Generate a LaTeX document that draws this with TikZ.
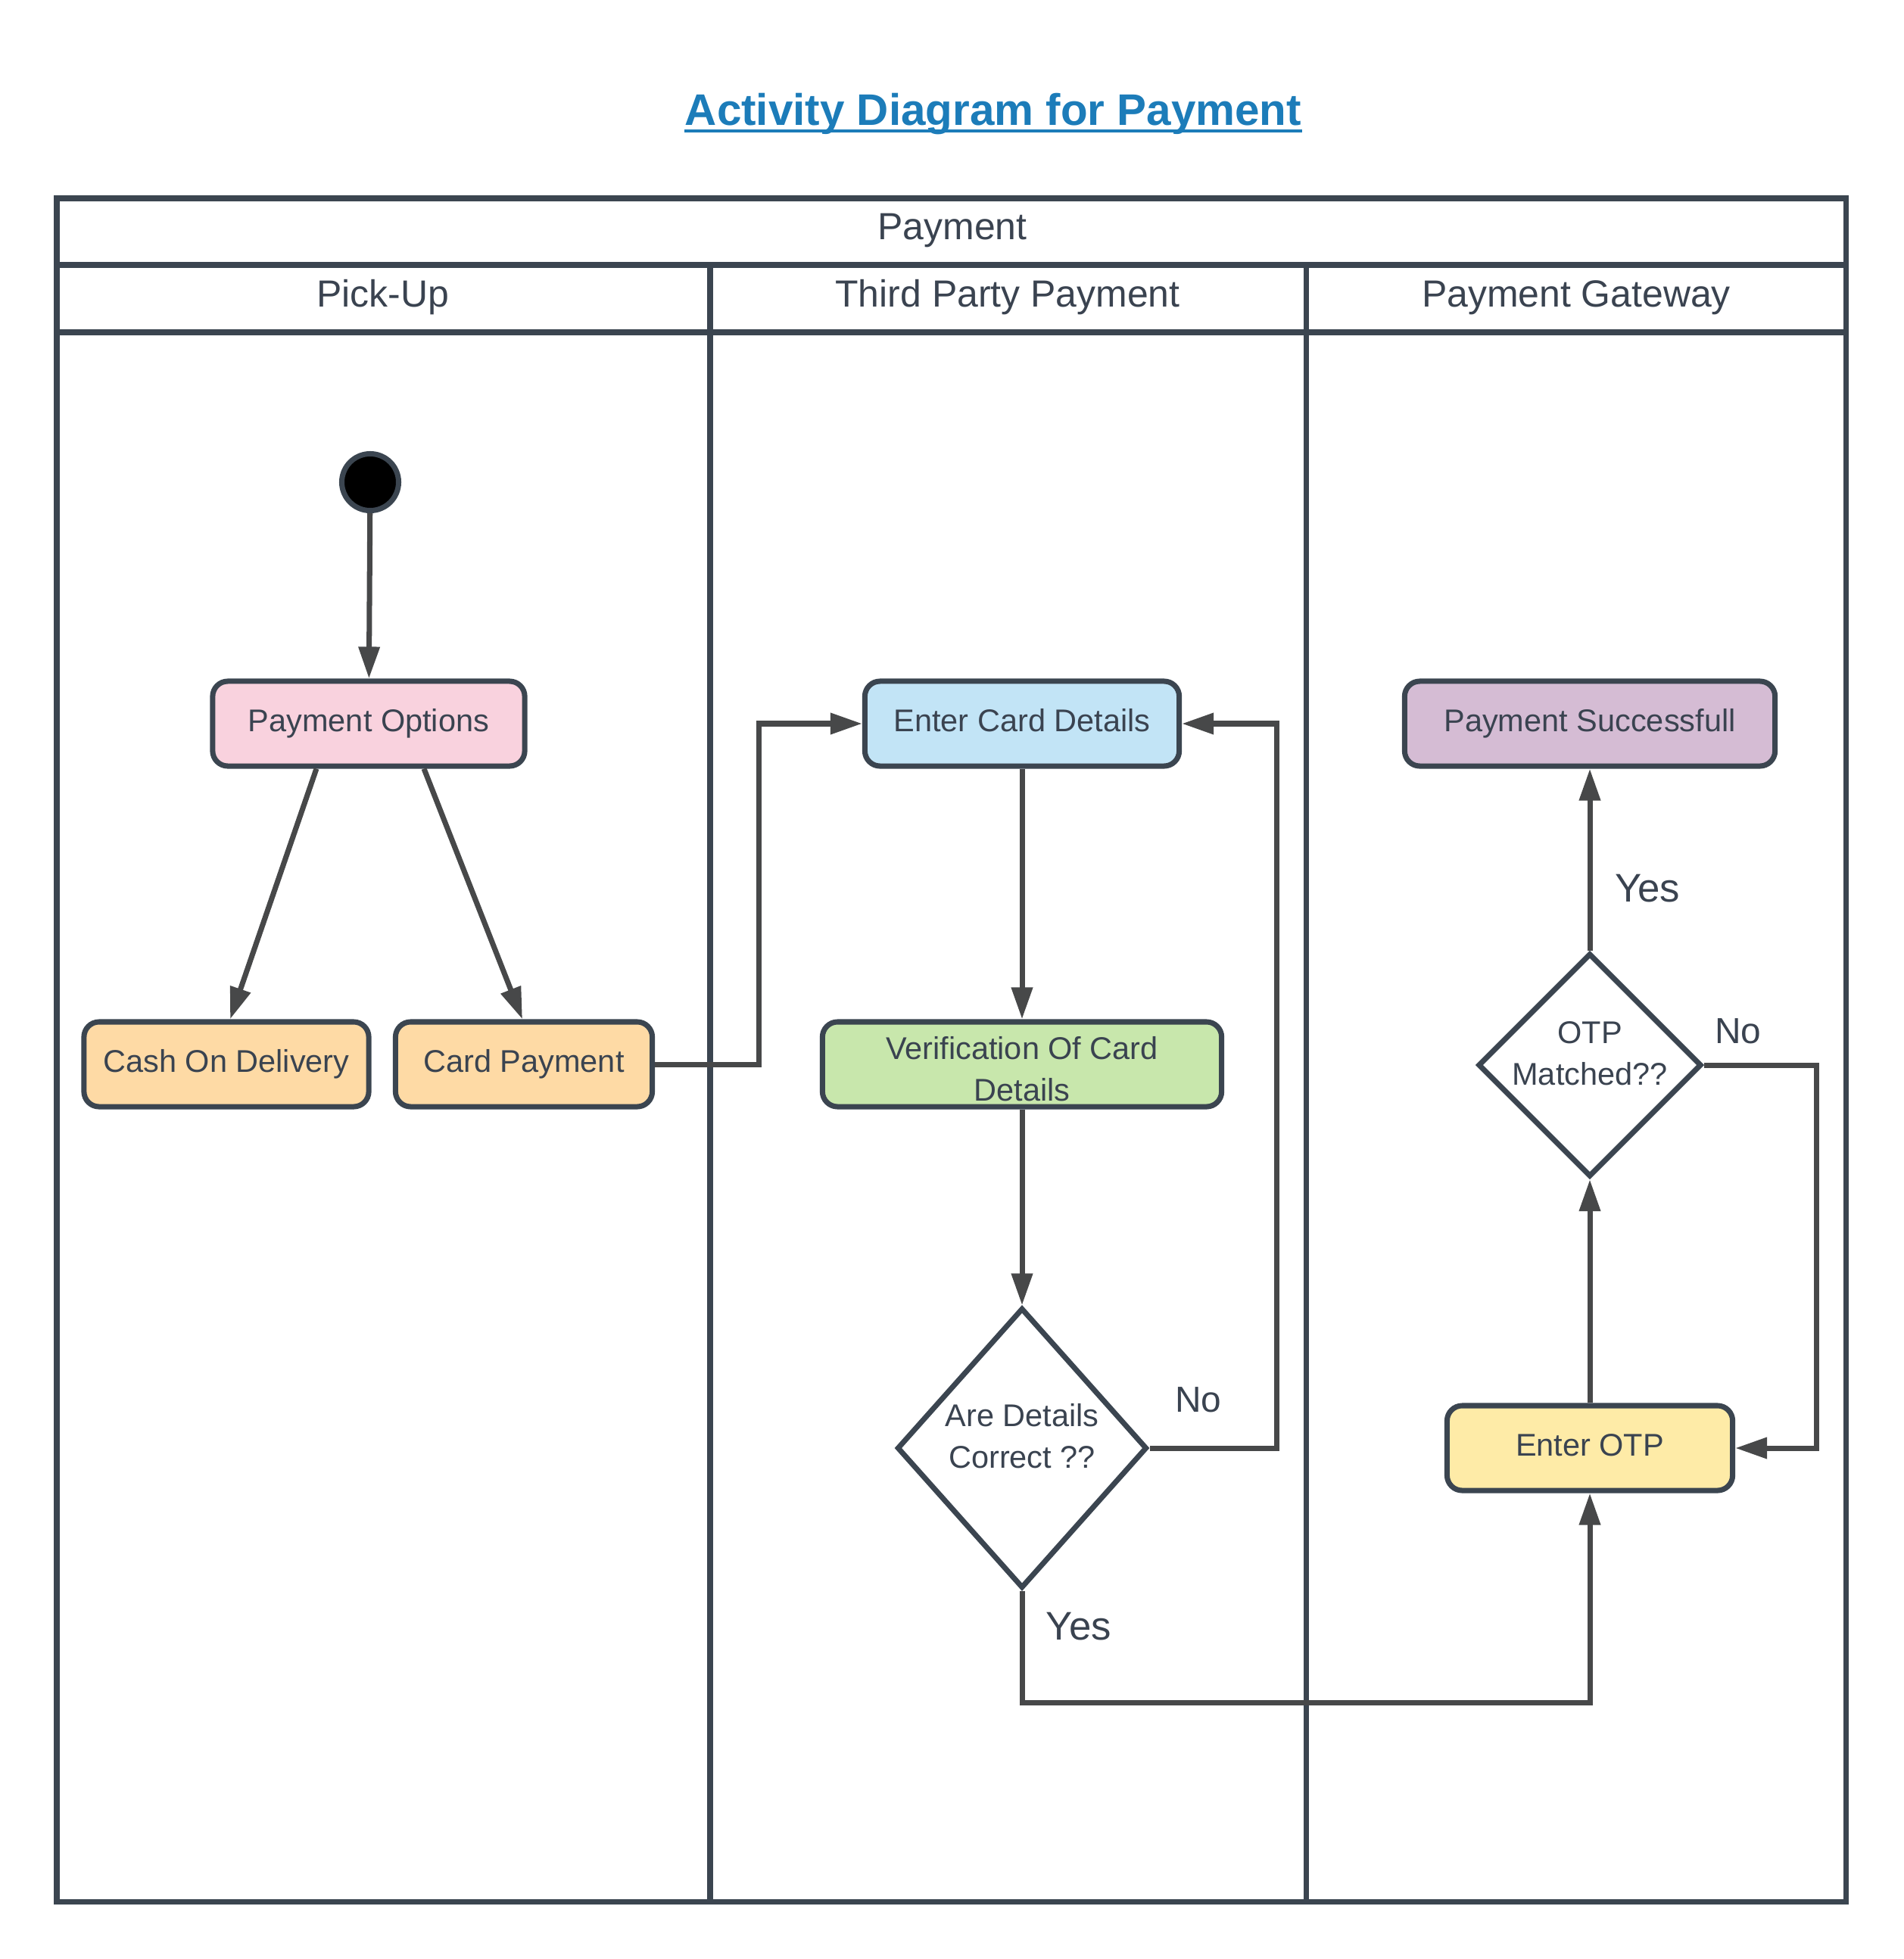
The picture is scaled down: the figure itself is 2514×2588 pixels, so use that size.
\documentclass[tikz,border=0pt]{standalone}
\usepackage{fontspec}
\setmainfont{Liberation Sans}
\usetikzlibrary{arrows.meta,shapes.geometric}

\definecolor{edgegray}{HTML}{3B4550}
\definecolor{flowgray}{HTML}{474849}
\definecolor{inkgray}{HTML}{3A4350}
\definecolor{titleblue}{HTML}{1C7CB9}
\definecolor{pinkfill}{HTML}{F9D2DE}
\definecolor{orangefill}{HTML}{FEDAA5}
\definecolor{bluefill}{HTML}{C2E4F6}
\definecolor{greenfill}{HTML}{C8E7AC}
\definecolor{purplefill}{HTML}{D5BCD4}
\definecolor{yellowfill}{HTML}{FEEBA7}

% two centred lines, lifted a little, not counted in the node size
\newcommand{\twolines}[2][0.4pt]{\raisebox{#1}[0pt][0pt]{\begin{tabular}{@{}c@{}}#2\end{tabular}}}

\tikzset{
  activity/.style={draw=edgegray, line width=2pt, rounded corners=0.2cm,
    minimum height=1.12cm, text=inkgray,
    text height=0.30cm, text depth=0.09cm,
    font=\fontsize{11.8}{15.5}\selectfont},
  decision/.style={diamond, draw=edgegray, line width=2pt, fill=white,
    inner sep=0pt, text=inkgray,
    font=\fontsize{11.8}{15.5}\selectfont},
  flow/.style={draw=flowgray, line width=2pt,
    -{Triangle[length=0.42cm,width=0.27cm]}},
  lanehead/.style={text=inkgray, font=\fontsize{14.2}{17}\selectfont},
  guard/.style={text=inkgray, font=\fontsize{13.6}{16}\selectfont},
}

\begin{document}
\begin{tikzpicture}[x=0.01cm,y=-0.01cm]
\useasboundingbox (0,0) rectangle (2514,2588);

% title
\node[anchor=base, inner sep=0pt, text=titleblue,
  font=\bfseries\fontsize{16.6}{20}\selectfont] (title) at (1312,166)
  {Activity Diagram for Payment};
\draw[titleblue, line width=1.1pt] ([yshift=-2pt]title.base west) -- ([yshift=-2pt]title.base east);

% swimlanes
\draw[edgegray, line width=2pt] (75,262) rectangle (2438,2512);
\draw[edgegray, line width=2pt] (75,350) -- (2438,350);
\draw[edgegray, line width=2pt] (75,439) -- (2438,439);
\draw[edgegray, line width=2pt] (938,350) -- (938,2512);
\draw[edgegray, line width=2pt] (1725,350) -- (1725,2512);
\node[lanehead] (pool) at (1258,305) {Payment};
\node[lanehead] (pickup) at (506,393) {Pick-Up};
\node[lanehead] (thirdparty) at (1331,393) {Third Party Payment};
\node[lanehead] (gateway) at (2082,393) {Payment Gateway};

% activities
\node[circle, draw=edgegray, fill=black, line width=2pt, minimum size=0.75cm, inner sep=0pt] (init) at (489,637) {};
\node[activity, fill=pinkfill, minimum width=4.12cm] (popt) at (487,956) {Payment Options};
\node[activity, fill=orangefill, minimum width=3.76cm] (cod) at (299,1406) {Cash On Delivery};
\node[activity, fill=orangefill, minimum width=3.39cm] (card) at (692,1406) {Card Payment};
\node[activity, fill=bluefill, minimum width=4.15cm] (ecd) at (1350,956) {Enter Card Details};
\node[activity, fill=greenfill, minimum width=5.27cm, text height=0pt, text depth=0pt] (verif) at (1350,1406) {\twolines[-5.9pt]{Verification Of Card\\Details}};
\node[decision, minimum width=3.3cm, minimum height=3.7cm] (chk) at (1350,1913) {\twolines{Are Details\\Correct ??}};
\node[activity, fill=purplefill, minimum width=4.89cm] (succ) at (2100,956) {Payment Successfull};
\node[decision, minimum width=2.95cm, minimum height=2.95cm] (otpq) at (2100,1407) {\twolines{OTP\\Matched??}};
\node[activity, fill=yellowfill, minimum width=3.77cm] (eotp) at (2100,1913) {Enter OTP};

% guards
\node[guard] (nocard) at (1583,1849) {No};
\node[guard, font=\fontsize{15}{18}\selectfont] (yescard) at (1425,2149) {Yes};
\node[guard, font=\fontsize{15}{18}\selectfont] (yesotp) at (2176,1174) {Yes};
\node[guard] (nootp) at (2296,1362) {No};

% flows
\draw[flow] (init) -- (popt);
\draw[flow] ([xshift=-0.69cm]popt.south) -- ([xshift=0.05cm]cod.north);
\draw[flow] ([xshift=0.73cm]popt.south) -- ([xshift=-0.02cm]card.north);
\draw[flow] (card.east) -- ++(137,0) |- (ecd.west);
\draw[flow] (ecd) -- (verif);
\draw[flow] (verif) -- (chk);
\draw[flow] (chk.east) -- ++(168,0) |- (ecd.east);
\draw[flow] (chk.south) -- ++(0,148) -| (eotp.south);
\draw[flow] (eotp) -- (otpq);
\draw[flow] (otpq) -- (succ);
\draw[flow] (otpq.east) -- ++(148,0) |- (eotp.east);
\end{tikzpicture}
\end{document}
